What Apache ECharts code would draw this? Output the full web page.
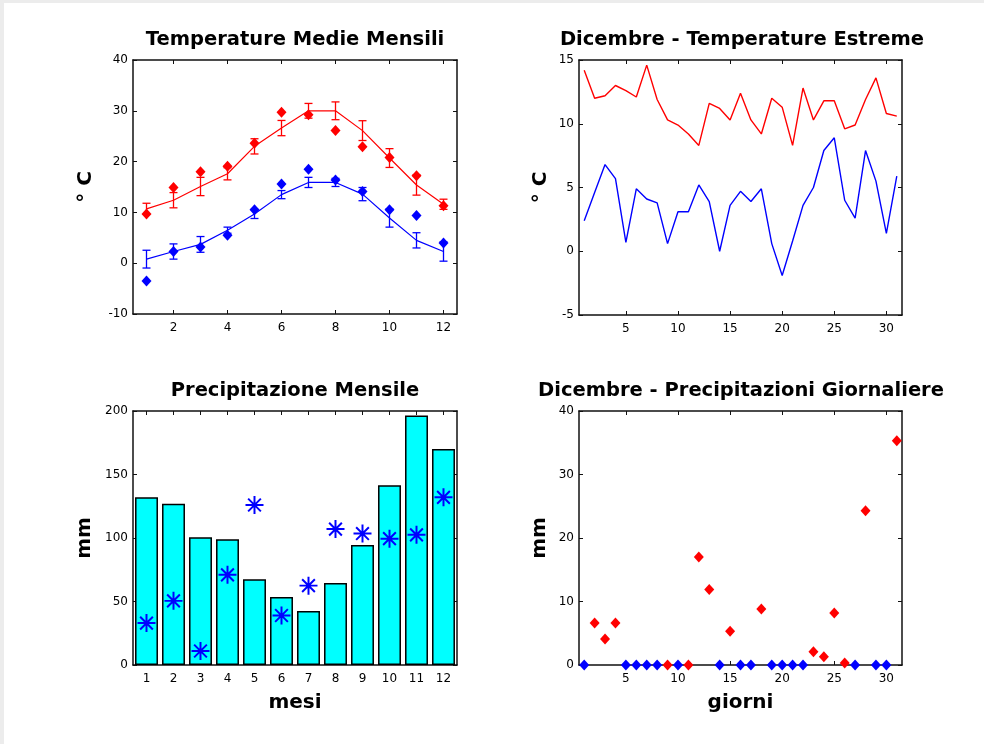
<!DOCTYPE html>
<html><head><meta charset="utf-8">
<script src="https://cdn.jsdelivr.net/npm/echarts@6/dist/echarts.min.js"></script>
<style>html,body{margin:0;padding:0;background:#fff}#c{width:984px;height:744px}</style>
</head><body><div id="c"></div>
<script>
// ---- data ----
const months = [1,2,3,4,5,6,7,8,9,10,11,12];
const monthLabels = ['1','2','3','4','5','6','7','8','9','10','11','12'];
const tmaxMean = [10.7,12.4,15.1,17.6,23.0,26.6,30.0,30.0,26.1,20.7,15.4,11.6];
const tmaxErr  = [1.1,1.5,1.8,1.2,1.5,1.5,1.45,1.75,1.95,1.85,2.0,1.0];
const tmaxYear = [9.7,14.9,18.0,19.1,23.6,29.7,29.2,26.1,22.9,20.8,17.2,11.3];
const tminMean = [0.8,2.3,3.7,6.5,9.7,13.5,15.9,15.9,13.6,8.9,4.5,2.3];
const tminErr  = [1.75,1.5,1.55,0.6,0.9,0.8,1.0,0.8,1.3,1.8,1.5,1.9];
const tminYear = [-3.5,2.3,3.2,5.5,10.5,15.6,18.5,16.4,14.1,10.5,9.4,4.0];

const days = Array.from({length:31},(_,i)=>i+1);
const decMax = [14.2,12.0,12.2,13.0,12.6,12.1,14.6,11.9,10.3,9.9,9.2,8.3,11.6,11.2,10.3,12.4,10.3,9.2,12.0,11.3,8.3,12.8,10.3,11.8,11.8,9.6,9.9,11.9,13.6,10.8,10.6];
const decMin = [2.4,4.6,6.8,5.7,0.7,4.9,4.1,3.8,0.6,3.1,3.1,5.2,3.9,0.0,3.6,4.7,3.9,4.9,0.6,-1.9,0.8,3.6,5.0,7.9,8.9,4.0,2.6,7.9,5.5,1.4,5.9];

const precipMonth = [132,127,100.5,99,67.5,53.5,42.5,64.5,94.5,141.5,196.5,170];
const precipYear  = [33,50.5,11,71,126,39,62.5,107,103.5,99.5,102.5,132];

const dailyPrecip = [0,6.6,4.1,6.6,0,0,0,0,0,0,0,17.0,11.9,0,5.3,0,0,8.8,0,0,0,0,2.1,1.3,8.2,0.3,0,24.3,0,0,35.3];
const rainyDay    = [0,1,1,1,0,0,0,0,1,0,1,1,1,0,1,0,0,1,0,0,0,0,1,1,1,1,0,1,0,0,1];

const tempTicksX = [2,4,6,8,10,12];
const dayTicksX  = [5,10,15,20,25,30];

// ---- styling helpers ----
const FONT = 'DejaVu Sans';
const AX = '#111';
const RED = '#ff0000', BLUE = '#0000ff';
const lbl = {fontFamily: FONT, fontSize: 12, color: '#000'};
const nameStyle = {fontFamily: FONT, fontSize: 20, fontWeight: 'bold', color: '#000'};

function valX(grid, pos, min, max, ticks, showLabel, name) {
  return {
    type: 'value', gridIndex: grid, position: pos, min, max,
    axisLine: {show: true, onZero: false, lineStyle: {color: AX, width: 1.5}},
    axisTick: {show: true, inside: true, length: 4, customValues: ticks, lineStyle: {color: AX, width: 1}},
    axisLabel: {show: showLabel, customValues: ticks, margin: 8, ...lbl},
    splitLine: {show: false},
    name: name || '', nameLocation: 'middle', nameGap: 28, nameTextStyle: nameStyle
  };
}
function catX(grid, pos, showLabel, name) {
  return {
    type: 'category', gridIndex: grid, position: pos, data: monthLabels, boundaryGap: true,
    axisLine: {show: true, onZero: false, lineStyle: {color: AX, width: 1.5}},
    axisTick: {show: true, inside: true, length: 4, alignWithLabel: true, lineStyle: {color: AX, width: 1}},
    axisLabel: {show: showLabel, margin: 8, interval: 0, ...lbl},
    splitLine: {show: false},
    name: name || '', nameLocation: 'middle', nameGap: 28, nameTextStyle: nameStyle
  };
}
function valY(grid, pos, min, max, interval, showLabel, name, gap) {
  return {
    type: 'value', gridIndex: grid, position: pos, min, max, interval,
    axisLine: {show: true, onZero: false, lineStyle: {color: AX, width: 1.5}},
    axisTick: {show: true, inside: true, length: 4, lineStyle: {color: AX, width: 1}},
    axisLabel: {show: showLabel, margin: 5, ...lbl},
    splitLine: {show: false},
    name: name || '', nameLocation: 'middle', nameGap: gap || 35, nameTextStyle: nameStyle
  };
}

// asterisk symbol path (shape only)
function asteriskPath() {
  const h = 0.11, parts = [];
  for (const ang of [0, 45, 90, 135]) {
    const a = ang * Math.PI / 180, c = Math.cos(a), s = Math.sin(a);
    const pts = [[-1,-h],[1,-h],[1,h],[-1,h]].map(([x,y]) => [x*c - y*s, x*s + y*c]);
    parts.push('M' + pts.map(p => p[0].toFixed(3) + ' ' + p[1].toFixed(3)).join(' L') + ' Z');
  }
  return 'path://' + parts.join(' ');
}

function errorBars(data, color) {
  return {
    type: 'custom', xAxisIndex: 0, yAxisIndex: 0, z: 3,
    encode: {x: 0, y: 1},
    data,
    renderItem(params, api) {
      const x = api.value(0), y = api.value(1), e = api.value(2);
      const t = api.coord([x, y + e]), b = api.coord([x, y - e]);
      const w = 4, st = {stroke: color, lineWidth: 1.3};
      return {type: 'group', children: [
        {type: 'line', shape: {x1: t[0], y1: t[1], x2: b[0], y2: b[1]}, style: st},
        {type: 'line', shape: {x1: t[0]-w, y1: t[1], x2: t[0]+w, y2: t[1]}, style: st},
        {type: 'line', shape: {x1: b[0]-w, y1: b[1], x2: b[0]+w, y2: b[1]}, style: st}
      ]};
    }
  };
}

const pair = (xs, ys) => xs.map((x, i) => [x, ys[i]]);
const titleStyle = {fontFamily: FONT, fontSize: 19.5, fontWeight: 'bold', color: '#000'};
const dia = color => ({symbol: 'diamond', symbolSize: [10, 11], itemStyle: {color, opacity: 1}, clip: false});

const option = {
  backgroundColor: '#fff',
  animation: false,
  graphic: [
    {type: 'rect', shape: {x: 0, y: 0, width: 4, height: 744}, style: {fill: '#ececec'}, z: 100},
    {type: 'rect', shape: {x: 0, y: 0, width: 984, height: 3}, style: {fill: '#ececec'}, z: 100}
  ],
  title: [
    {text: 'Temperature Medie Mensili', left: 290, top: 25, textAlign: 'center', textStyle: titleStyle},
    {text: 'Dicembre - Temperature Estreme', left: 737, top: 25, textAlign: 'center', textStyle: titleStyle},
    {text: 'Precipitazione Mensile', left: 290, top: 376, textAlign: 'center', textStyle: titleStyle},
    {text: 'Dicembre - Precipitazioni Giornaliere', left: 736, top: 376, textAlign: 'center', textStyle: titleStyle}
  ],
  grid: [
    {left: 133, top: 60, width: 324, height: 254},
    {left: 579, top: 60, width: 323, height: 255},
    {left: 133, top: 411, width: 324, height: 254},
    {left: 579, top: 411, width: 323, height: 254}
  ],
  xAxis: [
    valX(0, 'bottom', 0.5, 12.5, tempTicksX, true),
    valX(0, 'top', 0.5, 12.5, tempTicksX, false),
    valX(1, 'bottom', 0.5, 31.5, dayTicksX, true),
    valX(1, 'top', 0.5, 31.5, dayTicksX, false),
    catX(2, 'bottom', true, 'mesi'),
    catX(2, 'top', false),
    valX(3, 'bottom', 0.5, 31.5, dayTicksX, true, 'giorni'),
    valX(3, 'top', 0.5, 31.5, dayTicksX, false)
  ],
  yAxis: [
    valY(0, 'left', -10, 40, 10, true, '° C', 37),
    valY(0, 'right', -10, 40, 10, false),
    valY(1, 'left', -5, 15, 5, true, '° C', 28),
    valY(1, 'right', -5, 15, 5, false),
    valY(2, 'left', 0, 200, 50, true, 'mm', 38),
    valY(2, 'right', 0, 200, 50, false),
    valY(3, 'left', 0, 40, 10, true, 'mm', 29),
    valY(3, 'right', 0, 40, 10, false)
  ],
  series: [
    // top-left
    {type: 'line', xAxisIndex: 0, yAxisIndex: 0, data: pair(months, tmaxMean), symbol: 'none',
     lineStyle: {color: RED, width: 1.2}},
    {type: 'line', xAxisIndex: 0, yAxisIndex: 0, data: pair(months, tminMean), symbol: 'none',
     lineStyle: {color: BLUE, width: 1.2}},
    errorBars(months.map((m, i) => [m, tmaxMean[i], tmaxErr[i]]), RED),
    errorBars(months.map((m, i) => [m, tminMean[i], tminErr[i]]), BLUE),
    {type: 'scatter', xAxisIndex: 0, yAxisIndex: 0, data: pair(months, tmaxYear), z: 4, ...dia(RED)},
    {type: 'scatter', xAxisIndex: 0, yAxisIndex: 0, data: pair(months, tminYear), z: 4, ...dia(BLUE)},
    // top-right
    {type: 'line', xAxisIndex: 2, yAxisIndex: 2, data: pair(days, decMax), symbol: 'none',
     lineStyle: {color: RED, width: 1.4}},
    {type: 'line', xAxisIndex: 2, yAxisIndex: 2, data: pair(days, decMin), symbol: 'none',
     lineStyle: {color: BLUE, width: 1.4}},
    // bottom-left
    {type: 'bar', xAxisIndex: 4, yAxisIndex: 4, data: precipMonth, barCategoryGap: '15%',
     itemStyle: {color: '#00ffff', borderColor: '#000', borderWidth: 1.5}},
    {type: 'scatter', xAxisIndex: 4, yAxisIndex: 4, data: precipYear, symbol: asteriskPath(),
     symbolSize: 18, itemStyle: {color: BLUE, opacity: 1}, z: 5},
    // bottom-right
    {type: 'scatter', xAxisIndex: 6, yAxisIndex: 6, z: 5,
     data: days.filter((d, i) => rainyDay[i]).map(d => [d, dailyPrecip[d-1]]), ...dia(RED)},
    {type: 'scatter', xAxisIndex: 6, yAxisIndex: 6, z: 5,
     data: days.filter((d, i) => !rainyDay[i]).map(d => [d, dailyPrecip[d-1]]), ...dia(BLUE)}
  ]
};
const chart = echarts.init(document.getElementById('c'));
chart.setOption(option);
</script>
</body></html>
